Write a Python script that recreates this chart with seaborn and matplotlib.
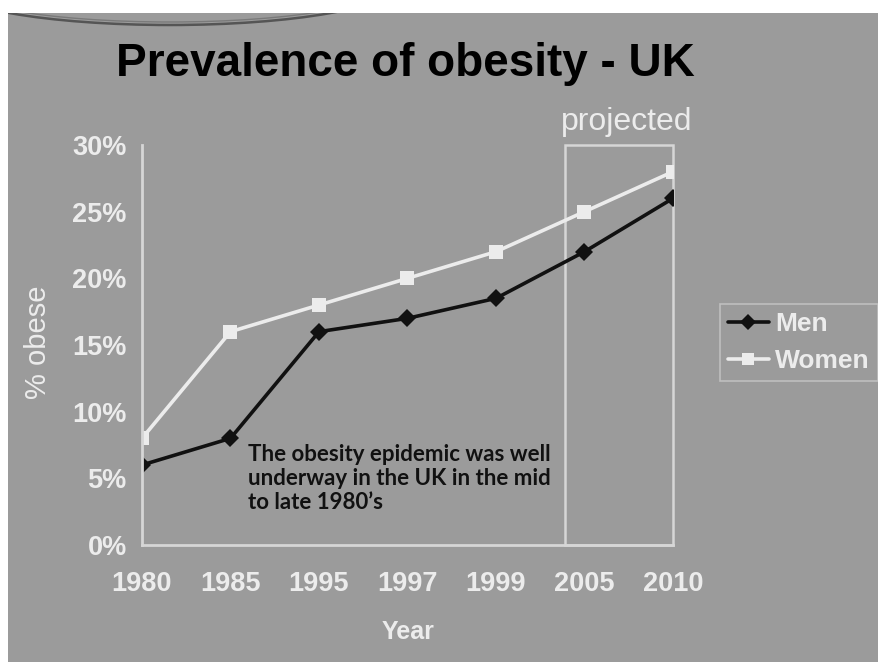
import matplotlib
matplotlib.use('Agg')
import numpy as np
import pandas as pd
import matplotlib.pyplot as plt
import seaborn as sns
from matplotlib import font_manager
from matplotlib.patches import Rectangle, Ellipse
from matplotlib.lines import Line2D

# data
years = ['1980', '1985', '1995', '1997', '1999', '2005', '2010']
men = [6, 8, 16, 17, 18.5, 22, 26]
women = [8, 16, 18, 20, 22, 25, 28]
projected_from = '2005'

df = pd.DataFrame({
    'pos': list(range(len(years))) * 2,
    'value': men + women,
    'series': ['Men'] * len(years) + ['Women'] * len(years),
})

BG = '#9b9b9b'
LIGHT = '#ececec'
AXIS = '#d6d6d6'

sns.set_theme(style='white')
plt.rcParams['font.family'] = ['Liberation Sans', 'DejaVu Sans']

names = {f.name for f in font_manager.fontManager.ttflist}
if 'Liberation Sans Narrow' in names:
    title_font, title_size = ['Liberation Sans Narrow', 'Liberation Sans'], 40
else:
    title_font, title_size = ['Liberation Sans'], 33

fig = plt.figure(figsize=(8.79, 6.62), dpi=100, facecolor=BG)
# decorative flat arc at top left of the slide
for (cy, col, lw) in [(6.77, '#555555', 1.8), (6.80, '#7a7a7a', 1.0)]:
    fig.add_artist(Ellipse((1.7, cy), 4.5, 0.8, transform=fig.dpi_scale_trans,
                           facecolor='none', edgecolor=col, lw=lw, zorder=-5))
# white strips at top and left (drawn over the arc)
fig.add_artist(Rectangle((0, 1 - 13 / 662), 1, 13 / 662, transform=fig.transFigure,
                         facecolor='white', edgecolor='none', zorder=-4))
fig.add_artist(Rectangle((0, 0), 8 / 879, 1, transform=fig.transFigure,
                         facecolor='white', edgecolor='none', zorder=-4))

ax = fig.add_axes([142 / 879, 117 / 662, 531 / 879, 400 / 662])
ax.set_facecolor('none')

sns.lineplot(data=df, x='pos', y='value', hue='series', style='series',
             palette={'Men': '#111111', 'Women': LIGHT},
             markers={'Men': 'D', 'Women': 's'}, dashes=False,
             markersize=9.5, linewidth=2.6, markeredgewidth=0, legend=False, ax=ax)

ax.set_xlim(0, len(years) - 1)
ax.set_ylim(0, 30)
ax.set_xticks(range(len(years)))
ax.set_xticklabels(years)
ax.set_yticks(range(0, 31, 5))
ax.set_yticklabels([f'{v}%' for v in range(0, 31, 5)])
ax.tick_params(axis='both', colors=AXIS, length=7, width=2, direction='out',
               labelsize=19.5, labelcolor=LIGHT, pad=4)
ax.tick_params(axis='x', pad=12)
for lab in ax.get_xticklabels() + ax.get_yticklabels():
    lab.set_fontweight('bold')
for side in ['top', 'right']:
    ax.spines[side].set_visible(False)
for side in ['left', 'bottom']:
    ax.spines[side].set_color(AXIS)
    ax.spines[side].set_linewidth(2)
ax.set_xlabel('')
ax.set_ylabel('')

# projected box
x0 = years.index(projected_from) - 0.22
ax.add_patch(Rectangle((x0, 0), len(years) - 1 - x0, 30, facecolor='none',
                       edgecolor=AXIS, lw=1.8, clip_on=False, zorder=1))
ax.text(x0 + 0.7, 30.6, 'projected', ha='center', va='bottom',
        fontsize=23, color=LIGHT)

ax.text(1.2, 7.6, "The obesity epidemic was well\nunderway in the UK in the mid\nto late 1980\u2019s",
        ha='left', va='top', fontsize=16, fontweight='bold', color='#111111',
        family=['Lato', 'DejaVu Sans'], linespacing=1.2)

fig.text(405 / 879, 1 - 64 / 662, 'Prevalence of obesity - UK', ha='center', va='center',
         fontsize=title_size, fontweight='bold', color='black', family=title_font)
fig.text(38 / 879, 1 - 342 / 662, '% obese', rotation=90, ha='center', va='center',
         fontsize=21, color=LIGHT)
fig.text(408 / 879, 1 - 632 / 662, 'Year', ha='center', va='center',
         fontsize=18, fontweight='bold', color=LIGHT)

handles = [Line2D([], [], color='#111111', marker='D', markersize=8.5, lw=2.6, markeredgewidth=0),
           Line2D([], [], color=LIGHT, marker='s', markersize=8.5, lw=2.6, markeredgewidth=0)]
leg = fig.legend(handles, ['Men', 'Women'], loc='upper left',
                 bbox_to_anchor=(720 / 879, 1 - 304 / 662), frameon=True,
                 prop={'weight': 'bold', 'size': 19}, labelcolor=LIGHT,
                 handlelength=1.55, handletextpad=0.25, borderpad=0.3,
                 labelspacing=0.5, borderaxespad=0, fancybox=False)
leg.get_frame().set_facecolor('none')
leg.get_frame().set_edgecolor('#c8c8c8')
leg.get_frame().set_linewidth(1.2)

fig.savefig('out.png', dpi=100, facecolor=BG)
